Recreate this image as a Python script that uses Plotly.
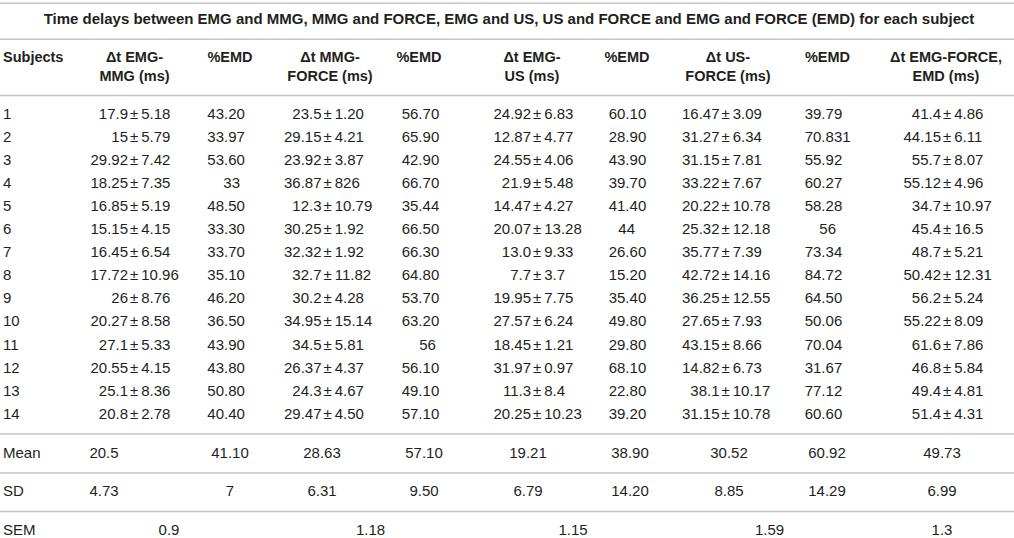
import plotly.graph_objects as go

TITLE = ("Time delays between EMG and MMG, MMG and FORCE, EMG and US, "
         "US and FORCE and EMG and FORCE (EMD) for each subject")

header_top = ["Subjects", "\u0394t EMG-", "%EMD", "\u0394t MMG-", "%EMD",
              "\u0394t EMG-", "%EMD", "\u0394t US-", "%EMD", "\u0394t EMG-FORCE,"]
header_bottom = ["", "MMG (ms)", "", "FORCE (ms)", "", "US (ms)", "",
                 "FORCE (ms)", "", "EMD (ms)"]

subjects = ["1", "2", "3", "4", "5", "6", "7", "8", "9", "10", "11", "12", "13", "14"]

# delta t columns: mean and sd (kept as text to keep the printed format)
emg_mmg_mean = ["17.9", "15", "29.92", "18.25", "16.85", "15.15", "16.45",
                "17.72", "26", "20.27", "27.1", "20.55", "25.1", "20.8"]
emg_mmg_sd = ["5.18", "5.79", "7.42", "7.35", "5.19", "4.15", "6.54",
              "10.96", "8.76", "8.58", "5.33", "4.15", "8.36", "2.78"]
mmg_force_mean = ["23.5", "29.15", "23.92", "36.87", "12.3", "30.25", "32.32",
                  "32.7", "30.2", "34.95", "34.5", "26.37", "24.3", "29.47"]
mmg_force_sd = ["1.20", "4.21", "3.87", "826", "10.79", "1.92", "1.92",
                "11.82", "4.28", "15.14", "5.81", "4.37", "4.67", "4.50"]
emg_us_mean = ["24.92", "12.87", "24.55", "21.9", "14.47", "20.07", "13.0",
               "7.7", "19.95", "27.57", "18.45", "31.97", "11.3", "20.25"]
emg_us_sd = ["6.83", "4.77", "4.06", "5.48", "4.27", "13.28", "9.33",
             "3.7", "7.75", "6.24", "1.21", "0.97", "8.4", "10.23"]
us_force_mean = ["16.47", "31.27", "31.15", "33.22", "20.22", "25.32", "35.77",
                 "42.72", "36.25", "27.65", "43.15", "14.82", "38.1", "31.15"]
us_force_sd = ["3.09", "6.34", "7.81", "7.67", "10.78", "12.18", "7.39",
               "14.16", "12.55", "7.93", "8.66", "6.73", "10.17", "10.78"]
emg_force_mean = ["41.4", "44.15", "55.7", "55.12", "34.7", "45.4", "48.7",
                  "50.42", "56.2", "55.22", "61.6", "46.8", "49.4", "51.4"]
emg_force_sd = ["4.86", "6.11", "8.07", "4.96", "10.97", "16.5", "5.21",
                "12.31", "5.24", "8.09", "7.86", "5.84", "4.81", "4.31"]

# %EMD columns
pct_emg_mmg = ["43.20", "33.97", "53.60", "33", "48.50", "33.30", "33.70",
               "35.10", "46.20", "36.50", "43.90", "43.80", "50.80", "40.40"]
pct_mmg_force = ["56.70", "65.90", "42.90", "66.70", "35.44", "66.50", "66.30",
                 "64.80", "53.70", "63.20", "56", "56.10", "49.10", "57.10"]
pct_emg_us = ["60.10", "28.90", "43.90", "39.70", "41.40", "44", "26.60",
              "15.20", "35.40", "49.80", "29.80", "68.10", "22.80", "39.20"]
pct_us_force = ["39.79", "70.831", "55.92", "60.27", "58.28", "56", "73.34",
                "84.72", "64.50", "50.06", "70.04", "31.67", "77.12", "60.60"]

mean_row = ["20.5", "41.10", "28.63", "57.10", "19.21", "38.90", "30.52", "60.92", "49.73"]
sd_row = ["4.73", "7", "6.31", "9.50", "6.79", "14.20", "8.85", "14.29", "6.99"]
sem_row = ["0.9", "1.18", "1.15", "1.59", "1.3"]

# ---- layout (page pixels) ----
W, H = 1014, 538
TXT = "#231f20"
RULE = "#c4c4c4"
FONT = "Liberation Sans"
BODY = 15
BOLD = 14.5
TITLE_SIZE = 15

pm_x = [129, 322.5, 532, 720.5, 942]           # position of the +- sign
pct_left = [207.3, 401.7, 608.7, 804.7]        # left edge of decimals
pct_center = [231.7, 427.6, 626.7, 827.7]      # integers are centred
head_x = [3, 134.5, 230, 330, 419, 532, 627, 728, 827.5, 946]
stat_x = [104, 230, 322, 424, 528, 630, 729, 827, 942]
sem_x = [169, 370.5, 573, 769.5, 942]

title_y = 20
head_y = [58.3, 77.5]
row0, row_step = 114.8, 23.1
mean_y, sd_y, sem_y = 454, 492.5, 531
rules_y = [3.3, 39.3, 95.5, 434, 473, 511.5]

row_y = [row0 + i * row_step for i in range(len(subjects))]

fig = go.Figure()


def add_text(xs, ys, texts, pos, size=BODY, bold=False):
    if bold:
        texts = ["<b>%s</b>" % t for t in texts]
    fig.add_trace(go.Scatter(x=xs, y=ys, text=texts, mode="text",
                             textposition=pos, hoverinfo="skip", cliponaxis=False,
                             textfont=dict(family=FONT, size=size, color=TXT),
                             showlegend=False))


# rules
rx, ry = [], []
for y in rules_y:
    rx += [0, W, None]
    ry += [y, y, None]
fig.add_trace(go.Scatter(x=rx, y=ry, mode="lines", hoverinfo="skip",
                         line=dict(color=RULE, width=1.6), showlegend=False))

# title
add_text([W / 2 + 2], [title_y], [TITLE], "middle center", size=TITLE_SIZE, bold=True)

# headers
add_text([head_x[0]], [head_y[0]], [header_top[0]], "middle right", size=BOLD, bold=True)
add_text(head_x[1:], [head_y[0]] * 9, header_top[1:], "middle center", size=BOLD, bold=True)
hb_x = [x for x, t in zip(head_x, header_bottom) if t]
hb_t = [t for t in header_bottom if t]
add_text(hb_x, [head_y[1]] * len(hb_t), hb_t, "middle center", size=BOLD, bold=True)

# subject numbers
add_text([3] * len(subjects), row_y, subjects, "middle right")

# mean +- sd columns
pairs = [(emg_mmg_mean, emg_mmg_sd), (mmg_force_mean, mmg_force_sd),
         (emg_us_mean, emg_us_sd), (us_force_mean, us_force_sd),
         (emg_force_mean, emg_force_sd)]
for (means, sds), x in zip(pairs, pm_x):
    add_text([x - 1] * len(means), row_y, means, "middle left")
    add_text([x + 1] * len(sds), row_y, ["\u00b1\u2009" + s for s in sds], "middle right")

# %EMD columns
for vals, xl, xc in zip([pct_emg_mmg, pct_mmg_force, pct_emg_us, pct_us_force],
                        pct_left, pct_center):
    xs = [xl if "." in v else xc for v in vals]
    ps = ["middle right" if "." in v else "middle center" for v in vals]
    add_text(xs, row_y, vals, ps)

# summary rows
add_text([3, 3, 3], [mean_y, sd_y, sem_y], ["Mean", "SD", "SEM"], "middle right")
add_text(stat_x, [mean_y] * len(mean_row), mean_row, "middle center")
add_text(stat_x, [sd_y] * len(sd_row), sd_row, "middle center")
add_text(sem_x, [sem_y] * len(sem_row), sem_row, "middle center")

fig.update_layout(
    width=W, height=H, autosize=False,
    margin=dict(l=0, r=0, t=0, b=0),
    paper_bgcolor="white", plot_bgcolor="white",
    xaxis=dict(range=[0, W], visible=False, fixedrange=True),
    yaxis=dict(range=[H, 0], visible=False, fixedrange=True),
)

# the page body has a default 8px margin; drop it so the table fills the window
fig.write_html("out.html", config={"displayModeBar": False},
               post_script="document.body.style.margin='0px';")
